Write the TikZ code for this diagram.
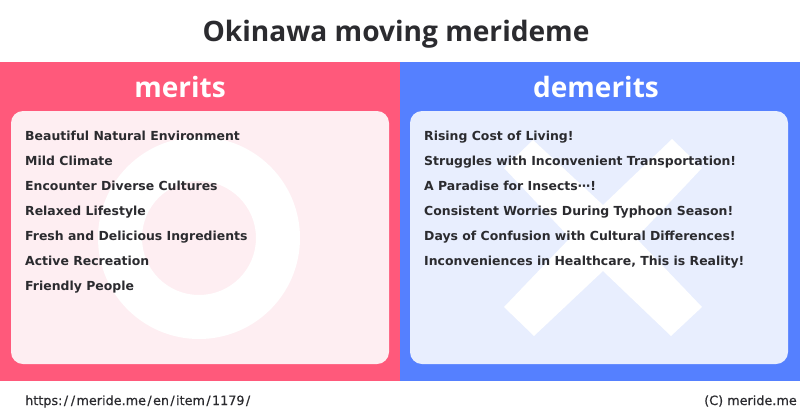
\documentclass[tikz,border=0pt]{standalone}
\usepackage{fontspec}
\setmainfont{DejaVu Sans}
\newfontfamily\headfont{Open Sans}
\newfontfamily\footfont[FakeBold=0.4]{DejaVu Sans}
\definecolor{pinkband}{HTML}{FF597B}
\definecolor{blueband}{HTML}{5580FF}
\definecolor{pinkpanel}{HTML}{FEEEF2}
\definecolor{bluepanel}{HTML}{E8EEFE}
\definecolor{inktext}{HTML}{2B2B2F}
\newcommand{\urlslash}{\kern1.35pt/\kern1.35pt}
\tikzset{
  listitem/.style={anchor=base west,inner sep=0pt,text=inktext,font=\fontsize{12.45}{15}\selectfont\bfseries},
  headlabel/.style={anchor=base,inner sep=0pt,text=white,font=\headfont\fontsize{28}{32}\selectfont\bfseries},
  footlabel/.style={inner sep=0pt,text=inktext,font=\footfont\fontsize{12.8}{15}\selectfont},
  panelbox/.style={rounded corners=12pt}
}
\begin{document}
\begin{tikzpicture}[x=1pt,y=-1pt]
\useasboundingbox (0,0) rectangle (800,418);
\fill[white] (0,0) rectangle (800,418);
\fill[pinkband] (0,62) rectangle (400,381);
\fill[blueband] (400,62) rectangle (800,381);
\fill[pinkpanel,panelbox] (11,111) rectangle (389,364);
\fill[bluepanel,panelbox] (410,111) rectangle (788,364);
\fill[white,even odd rule] (199,238) circle[radius=101] (199,238) circle[radius=57];
\fill[white] (603,205) -- (672,139) -- (702,168) -- (636,238) -- (702,307) -- (671,336) -- (603,271) -- (534,336) -- (504,307) -- (570,238) -- (504,168) -- (533,140) -- cycle;
\node[headlabel,text=inktext,font=\headfont\fontsize{28.1}{32}\selectfont\bfseries] (title) at (396,41) {Okinawa moving merideme};
\node[headlabel] (merits) at (180,97) {merits};
\node[headlabel] (demerits) at (596,97) {demerits};
\node[listitem] (m1) at (25,140) {Beautiful Natural Environment};
\node[listitem] (m2) at (25,165) {Mild Climate};
\node[listitem] (m3) at (25,190) {Encounter Diverse Cultures};
\node[listitem] (m4) at (25,215) {Relaxed Lifestyle};
\node[listitem] (m5) at (25,240) {Fresh and Delicious Ingredients};
\node[listitem] (m6) at (25,265) {Active Recreation};
\node[listitem] (m7) at (25,290) {Friendly People};
\node[listitem] (d1) at (424,140) {Rising Cost of Living!};
\node[listitem] (d2) at (424,165) {Struggles with Inconvenient Transportation!};
\node[listitem] (d3) at (424,190) {A Paradise for Insects⋯!};
\node[listitem] (d4) at (424,215) {Consistent Worries During Typhoon Season!};
\node[listitem] (d5) at (424,240) {Days of Confusion with Cultural Differences!};
\node[listitem] (d6) at (424,265) {Inconveniences in Healthcare, This is Reality!};
\node[footlabel,anchor=base west] (url) at (25,405) {https:\urlslash\urlslash meride.me\urlslash en\urlslash item\urlslash 1179\urlslash};
\node[footlabel,anchor=base east] (copy) at (797,405) {(C) meride.me};
\end{tikzpicture}
\end{document}
